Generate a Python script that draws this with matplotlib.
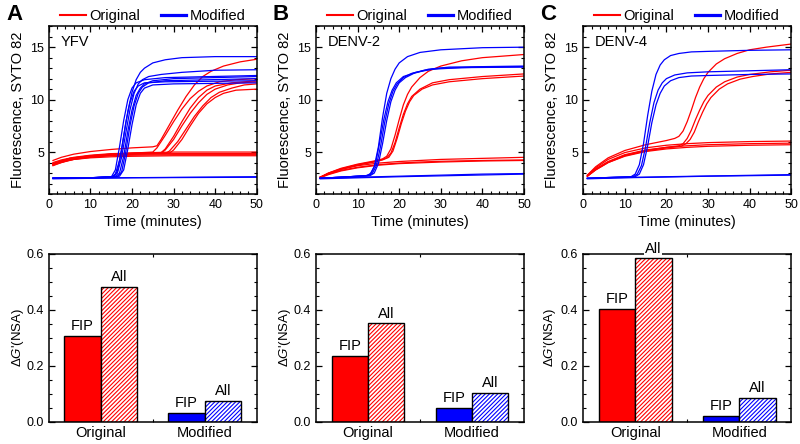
import matplotlib
matplotlib.use('Agg')
import matplotlib.pyplot as plt
from matplotlib.lines import Line2D
from matplotlib.ticker import MultipleLocator, FormatStrFormatter

plt.rcParams['font.family'] = ['Liberation Sans', 'DejaVu Sans']
plt.rcParams['mathtext.fontset'] = 'custom'
plt.rcParams['mathtext.rm'] = 'Liberation Sans'
plt.rcParams['mathtext.it'] = 'Liberation Sans:italic'
plt.rcParams['hatch.linewidth'] = 0.8

RED = '#ff0000'
BLUE = '#0000ff'

# --- amplification curves, (time, fluorescence) -------------------------------
yfv_original = [
    [(1, 3.7), (3, 4.0), (6, 4.3), (10, 4.5), (15, 4.65), (20, 4.7), (30, 4.75), (50, 4.75)],
    [(1, 3.9), (3, 4.15), (6, 4.4), (10, 4.6), (15, 4.75), (20, 4.8), (30, 4.85), (50, 4.85)],
    [(1, 4.0), (3, 4.25), (6, 4.5), (10, 4.7), (15, 4.85), (20, 4.9), (30, 5.0), (50, 5.0)],
    [(1, 3.8), (3, 4.05), (6, 4.3), (10, 4.45), (15, 4.55), (20, 4.6), (30, 4.65), (50, 4.65)],
    [(1, 4.2), (3, 4.5), (6, 4.8), (10, 5.05), (15, 5.25), (20, 5.4), (25, 5.5), (26, 5.6), (27, 6.2),
     (29, 7.6), (31, 9.0), (33, 10.3), (35, 11.4), (37, 12.2), (39, 12.7), (42, 13.2), (46, 13.6), (50, 13.85)],
    [(1, 3.9), (5, 4.4), (10, 4.65), (15, 4.8), (20, 4.9), (25, 5.0), (26, 5.4), (28, 6.6), (30, 7.9),
     (32, 9.1), (34, 10.1), (36, 10.8), (38, 11.3), (41, 11.7), (45, 11.9), (50, 12.0)],
    [(1, 3.8), (5, 4.3), (10, 4.6), (15, 4.75), (20, 4.85), (27, 4.9), (28, 5.2), (30, 6.2), (32, 7.5),
     (34, 8.7), (36, 9.7), (38, 10.5), (40, 11.0), (43, 11.4), (46, 11.6), (50, 11.7)],
    [(1, 3.75), (5, 4.25), (10, 4.55), (15, 4.7), (20, 4.8), (28, 4.85), (29, 5.1), (31, 6.0), (33, 7.2),
     (35, 8.4), (37, 9.4), (39, 10.2), (41, 10.7), (44, 11.1), (47, 11.4), (50, 11.5)],
    [(1, 3.85), (5, 4.35), (10, 4.6), (15, 4.75), (20, 4.85), (29, 4.9), (30, 5.2), (32, 6.2), (34, 7.5),
     (36, 8.7), (38, 9.6), (40, 10.2), (42, 10.6), (45, 10.9), (50, 11.0)],
    [(1, 3.9), (5, 4.4), (10, 4.65), (15, 4.8), (20, 4.9), (27, 4.95), (28, 5.3), (30, 6.5), (32, 7.9),
     (34, 9.2), (36, 10.2), (38, 10.9), (40, 11.3), (44, 11.6), (50, 11.8)],
]
yfv_modified = [
    [(1, 2.45), (20, 2.55), (50, 2.6)],
    [(1, 2.5), (50, 2.65)],
    [(1, 2.5), (10, 2.55), (15, 2.6), (16, 2.9), (17, 4.2), (18, 6.5), (19, 8.9), (20, 10.7), (21, 11.9),
     (22, 12.6), (23, 13.0), (25, 13.5), (28, 13.8), (32, 14.0), (40, 14.1), (50, 14.1)],
    [(1, 2.5), (10, 2.55), (15.5, 2.65), (16.5, 3.0), (17.5, 4.5), (18.5, 6.8), (19.5, 9.0), (20.5, 10.6),
     (21.5, 11.5), (22.5, 11.9), (24, 12.2), (27, 12.4), (32, 12.6), (40, 12.8), (50, 12.85)],
    [(1, 2.5), (10, 2.55), (16, 2.65), (17, 3.0), (18, 4.6), (19, 7.0), (20, 9.0), (21, 10.4), (22, 11.1),
     (23, 11.5), (25, 11.8), (30, 12.0), (50, 12.2)],
    [(1, 2.5), (10, 2.55), (16.5, 2.65), (17.5, 3.1), (18.5, 5.0), (19.5, 7.5), (20.5, 9.4), (21.5, 10.6),
     (22.5, 11.2), (24, 11.6), (28, 11.8), (50, 12.0)],
    [(1, 2.5), (10, 2.55), (15.5, 2.6), (16.5, 3.2), (17.5, 5.2), (18.5, 7.8), (19.5, 9.7), (20.5, 10.8),
     (21.5, 11.3), (23, 11.6), (28, 11.7), (50, 11.8)],
    [(1, 2.5), (10, 2.55), (17, 2.7), (18, 3.3), (19, 5.3), (20, 7.6), (21, 9.5), (22, 10.6), (23, 11.1),
     (25, 11.4), (30, 11.5), (50, 11.6)],
    [(1, 2.5), (10, 2.55), (15, 2.6), (16, 3.3), (17, 5.5), (18, 8.0), (19, 10.0), (20, 11.1), (21, 11.6),
     (23, 11.9), (28, 12.1), (50, 12.3)],
]

denv2_original = [
    [(1, 2.6), (3, 2.9), (6, 3.25), (10, 3.55), (15, 3.8), (20, 3.95), (25, 4.05), (30, 4.12), (40, 4.2), (50, 4.25)],
    [(1, 2.6), (3, 2.95), (6, 3.35), (10, 3.7), (15, 3.95), (20, 4.1), (25, 4.2), (30, 4.3), (40, 4.4), (50, 4.5)],
    [(1, 2.55), (3, 2.85), (6, 3.2), (10, 3.5), (15, 3.75), (20, 3.9), (30, 4.05), (40, 4.15), (50, 4.2)],
    [(1, 2.6), (3, 3.0), (6, 3.45), (10, 3.85), (14, 4.15), (16, 4.35), (17, 4.6), (18, 5.3), (19, 6.6),
     (20, 8.1), (21, 9.5), (22, 10.5), (23, 11.2), (25, 12.1), (27, 12.7), (30, 13.2), (35, 13.7), (40, 14.0),
     (45, 14.15), (50, 14.3)],
    [(1, 2.6), (3, 3.0), (6, 3.4), (10, 3.8), (14, 4.1), (16, 4.3), (17, 4.45), (18, 4.9), (19, 5.9), (20, 7.3),
     (21, 8.6), (22, 9.6), (23, 10.3), (25, 11.0), (28, 11.6), (32, 11.9), (40, 12.2), (50, 12.45)],
    [(1, 2.6), (3, 2.95), (6, 3.35), (10, 3.75), (14, 4.05), (16, 4.25), (17.5, 4.5), (18.5, 5.1), (19.5, 6.3),
     (20.5, 7.7), (21.5, 8.9), (22.5, 9.8), (23.5, 10.4), (25.5, 11.0), (28, 11.4), (32, 11.7), (40, 12.0),
     (50, 12.25)],
]
denv2_modified = [
    [(1, 2.5), (10, 2.6), (20, 2.7), (30, 2.8), (40, 2.9), (50, 2.95)],
    [(1, 2.45), (20, 2.65), (50, 2.9)],
    [(1, 2.5), (8, 2.65), (12, 2.75), (13, 2.9), (14, 3.6), (15, 5.5), (16, 8.3), (17, 10.6), (18, 12.0),
     (19, 12.9), (20, 13.5), (22, 14.1), (25, 14.5), (30, 14.75), (40, 14.95), (50, 15.0)],
    [(1, 2.5), (8, 2.65), (12.5, 2.75), (13.5, 2.95), (14.5, 3.7), (15.5, 5.5), (16.5, 7.8), (17.5, 9.6),
     (18.5, 10.8), (19.5, 11.5), (21, 12.1), (23, 12.5), (26, 12.8), (30, 13.0), (40, 13.1), (50, 13.15)],
    [(1, 2.5), (8, 2.65), (13, 2.75), (14, 3.0), (15, 3.9), (16, 5.8), (17, 8.0), (18, 9.8), (19, 10.9),
     (20, 11.6), (21.5, 12.1), (23.5, 12.5), (27, 12.9), (32, 13.1), (50, 13.2)],
    [(1, 2.5), (8, 2.65), (12.3, 2.75), (13.3, 3.0), (14.3, 3.9), (15.3, 5.9), (16.3, 8.1), (17.3, 9.8),
     (18.3, 10.9), (19.3, 11.6), (21, 12.2), (24, 12.6), (28, 12.9), (35, 13.05), (50, 13.1)],
]

denv4_original = [
    [(1, 2.7), (3, 3.3), (6, 4.0), (10, 4.6), (15, 5.05), (20, 5.3), (25, 5.45), (30, 5.55), (40, 5.65), (50, 5.7)],
    [(1, 2.75), (3, 3.4), (6, 4.1), (10, 4.75), (15, 5.2), (20, 5.45), (25, 5.6), (30, 5.7), (40, 5.8), (50, 5.85)],
    [(1, 2.8), (3, 3.5), (6, 4.3), (10, 4.95), (15, 5.4), (20, 5.65), (25, 5.8), (30, 5.9), (40, 6.0), (50, 6.05)],
    [(1, 2.8), (3, 3.6), (6, 4.45), (10, 5.15), (15, 5.7), (20, 6.1), (22, 6.3), (23, 6.5), (24, 7.0), (25, 7.9),
     (26, 9.0), (27, 10.2), (28, 11.2), (29, 12.0), (30, 12.6), (32, 13.4), (34, 13.9), (37, 14.4), (40, 14.75),
     (44, 15.0), (50, 15.3)],
    [(1, 2.7), (3, 3.35), (6, 4.05), (10, 4.7), (15, 5.15), (20, 5.45), (23, 5.6), (24, 5.8), (25, 6.3),
     (26, 7.1), (27, 8.1), (28, 9.0), (29, 9.8), (30, 10.4), (32, 11.2), (34, 11.7), (37, 12.15), (40, 12.4),
     (45, 12.65), (50, 12.8)],
    [(1, 2.7), (3, 3.3), (6, 4.0), (10, 4.65), (15, 5.1), (20, 5.4), (23.5, 5.55), (24.7, 5.8), (25.7, 6.2),
     (26.7, 6.9), (27.7, 7.9), (28.7, 8.8), (29.7, 9.6), (30.7, 10.2), (32.7, 11.0), (34.7, 11.5), (37.7, 11.95),
     (40.7, 12.2), (45, 12.45), (50, 12.6)],
]
denv4_modified = [
    [(1, 2.45), (10, 2.55), (20, 2.62), (30, 2.7), (40, 2.75), (50, 2.8)],
    [(1, 2.5), (20, 2.65), (50, 2.85)],
    [(1, 2.5), (8, 2.6), (11.5, 2.65), (12.5, 2.9), (13.5, 3.8), (14.5, 5.8), (15.5, 8.5), (16.5, 10.8),
     (17.5, 12.4), (18.5, 13.3), (19.5, 13.8), (21, 14.2), (23, 14.4), (26, 14.55), (30, 14.6), (40, 14.7),
     (50, 14.75)],
    [(1, 2.5), (8, 2.6), (12, 2.65), (13, 2.9), (14, 3.7), (15, 5.5), (16, 7.8), (17, 9.7), (18, 10.9),
     (19, 11.6), (20, 12.0), (22, 12.35), (25, 12.55), (30, 12.65), (40, 12.75), (50, 12.85)],
    [(1, 2.5), (8, 2.6), (12.5, 2.65), (13.5, 2.9), (14.5, 3.8), (15.5, 5.6), (16.5, 7.8), (17.5, 9.5),
     (18.5, 10.6), (19.5, 11.3), (21, 11.8), (23, 12.1), (26, 12.25), (30, 12.3), (40, 12.4), (50, 12.45)],
]

panel_letters = ['A', 'B', 'C']
virus_names = ['YFV', 'DENV-2', 'DENV-4']
original_sets = [yfv_original, denv2_original, denv4_original]
modified_sets = [yfv_modified, denv2_modified, denv4_modified]

# --- ΔG'(NSA) bars -------------------------------------------------------------
primer_sets = ['Original', 'Modified']
dg_fip = [[0.307, 0.032], [0.236, 0.050], [0.403, 0.021]]
dg_all = [[0.483, 0.076], [0.352, 0.103], [0.584, 0.085]]

# --- figure --------------------------------------------------------------------
fig = plt.figure(figsize=(8, 4.44), dpi=100)
lefts = [0.061, 0.395, 0.729]
w_ax = 0.26
letter_x = [0.0075, 0.341, 0.675]
bar_ylabel_x = [-0.11, -0.11, -0.12]
FS = 10.5


def style_ticks(ax):
    ax.tick_params(which='both', direction='in', top=True, right=True, labelsize=9)
    ax.tick_params(which='major', length=4, width=0.9)
    ax.tick_params(which='minor', length=2, width=0.8)
    for s in ax.spines.values():
        s.set_linewidth(1.1)


for i in range(3):
    ax = fig.add_axes([lefts[i], 0.563, w_ax, 0.378])
    for c in original_sets[i]:
        ts, fs = zip(*c)
        ax.plot(ts, fs, color=RED, lw=0.9)
    for c in modified_sets[i]:
        ts, fs = zip(*c)
        ax.plot(ts, fs, color=BLUE, lw=0.9)
    ax.set_xlim(0, 50)
    ax.set_ylim(1, 17)
    ax.xaxis.set_major_locator(MultipleLocator(10))
    ax.xaxis.set_minor_locator(MultipleLocator(2))
    ax.yaxis.set_major_locator(MultipleLocator(5))
    ax.yaxis.set_minor_locator(MultipleLocator(1))
    style_ticks(ax)
    ax.set_xlabel('Time (minutes)', fontsize=FS, labelpad=3)
    ax.set_ylabel('Fluorescence, SYTO 82', fontsize=FS)
    ax.yaxis.set_label_coords(-0.115, 0.5)
    ax.text(0.055, 0.905, virus_names[i], transform=ax.transAxes, fontsize=FS, va='center')
    handles = [Line2D([], [], color=RED, lw=1.5), Line2D([], [], color=BLUE, lw=2.3)]
    ax.legend(handles, ['Original', 'Modified'], loc='lower center', bbox_to_anchor=(0.5, 0.99),
              ncol=2, frameon=False, fontsize=FS, handlelength=1.75, handletextpad=0.25,
              columnspacing=1.4, borderaxespad=0.1, borderpad=0.2)
    fig.text(letter_x[i], 0.968, panel_letters[i], fontsize=16, fontweight='bold', va='center')

    # bar panel
    bx = fig.add_axes([lefts[i], 0.050, w_ax, 0.378])
    x = [0, 1]
    bw = 0.35
    cols = [RED, BLUE]
    xf = [v - bw / 2 for v in x]
    xa = [v + bw / 2 for v in x]
    bx.bar(xf, dg_fip[i], bw, color=cols, edgecolor='black', lw=1, zorder=2)
    bx.bar(xa, dg_all[i], bw, color='white', edgecolor=cols, hatch='////////', lw=0, zorder=2)
    bx.bar(xa, dg_all[i], bw, fill=False, edgecolor='black', lw=1, zorder=2.1)
    for j in range(2):
        bx.annotate('FIP', (xf[j], dg_fip[i][j]), xytext=(0, 2), textcoords='offset points',
                    ha='center', va='bottom', fontsize=FS)
        bx.annotate('All', (xa[j], dg_all[i][j]), xytext=(0, 2), textcoords='offset points',
                    ha='center', va='bottom', fontsize=FS, zorder=5,
                    bbox=dict(facecolor='white', edgecolor='none', pad=0.5))
    bx.set_xlim(-0.5, 1.5)
    bx.set_ylim(0, 0.6)
    bx.set_xticks(x)
    bx.set_xticklabels(primer_sets)
    bx.set_xticks([0.5], minor=True)
    bx.yaxis.set_major_locator(MultipleLocator(0.2))
    bx.yaxis.set_minor_locator(MultipleLocator(0.05))
    bx.yaxis.set_major_formatter(FormatStrFormatter('%.1f'))
    style_ticks(bx)
    bx.tick_params(axis='x', which='major', length=0, pad=3, labelsize=FS)
    bx.set_ylabel(r"$\Delta G$'(NSA)", fontsize=9.5)
    bx.yaxis.set_label_coords(bar_ylabel_x[i], 0.5)

fig.savefig('out.png', dpi=100)
